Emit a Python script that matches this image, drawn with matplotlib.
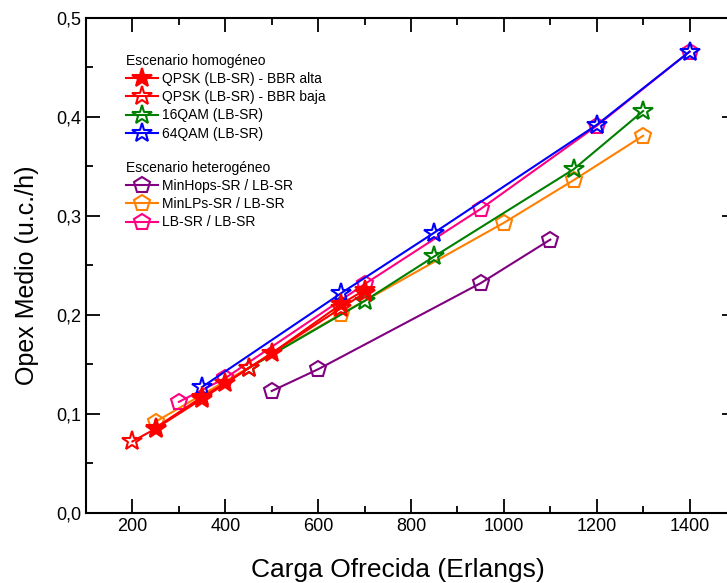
#!/usr/bin/env python3
# coding: utf-8

import matplotlib
matplotlib.use('Agg')
import matplotlib.pyplot as plt
from matplotlib.ticker import MultipleLocator, FuncFormatter

plt.rcParams['font.family'] = ['Liberation Sans', 'DejaVu Sans']

# Escenario homogeneo
qpsk_alta_x = [250, 350, 400, 500, 650, 700]
qpsk_alta_y = [0.086, 0.117, 0.131, 0.161, 0.211, 0.225]
qpsk_baja_x = [200, 250, 350, 450, 650, 700]
qpsk_baja_y = [0.072, 0.085, 0.115, 0.146, 0.207, 0.222]
qam16_x = [450, 700, 850, 1150, 1300]
qam16_y = [0.146, 0.214, 0.259, 0.347, 0.406]
qam64_x = [350, 650, 850, 1200, 1400]
qam64_y = [0.127, 0.222, 0.283, 0.392, 0.466]

# Escenario heterogeneo
minhops_x = [500, 600, 950, 1100]
minhops_y = [0.123, 0.145, 0.232, 0.276]
minlps_x = [250, 650, 1000, 1150, 1300]
minlps_y = [0.092, 0.201, 0.293, 0.336, 0.381]
lbsr_x = [300, 400, 700, 950, 1200, 1400]
lbsr_y = [0.112, 0.136, 0.231, 0.307, 0.391, 0.466]


def coma(v, pos):
    return ('%.1f' % v).replace('.', ',')


fig = plt.figure(figsize=(7.27, 5.83), dpi=100)
# el eje derecho queda fuera de la imagen, como en el original
ax = fig.add_axes([86 / 727, 1 - 512.7 / 583, 650 / 727, (512.7 - 18) / 583])

lw = 1.5
mew = 1.5
ms_star = 15
ms_pent = 12

h_minhops, = ax.plot(minhops_x, minhops_y, color='#800080', lw=lw, marker='p', ms=ms_pent,
                     mfc='none', mew=mew, label='MinHops-SR / LB-SR')
h_minlps, = ax.plot(minlps_x, minlps_y, color='#FF8000', lw=lw, marker='p', ms=ms_pent,
                    mfc='none', mew=mew, label='MinLPs-SR / LB-SR')
h_16, = ax.plot(qam16_x, qam16_y, color='#008000', lw=lw, marker='*', ms=ms_star,
                mfc='none', mew=mew, label='16QAM (LB-SR)')
h_lbsr, = ax.plot(lbsr_x, lbsr_y, color='#FF0080', lw=lw, marker='p', ms=ms_pent,
                  mfc='none', mew=mew, label='LB-SR / LB-SR')
h_64, = ax.plot(qam64_x, qam64_y, color='#0000FF', lw=lw, marker='*', ms=ms_star,
                mfc='none', mew=mew, label='64QAM (LB-SR)')
h_baja, = ax.plot(qpsk_baja_x, qpsk_baja_y, color='#FF0000', lw=lw, marker='*', ms=ms_star,
                  mfc='none', mew=mew, label='QPSK (LB-SR) - BBR baja')
h_alta, = ax.plot(qpsk_alta_x, qpsk_alta_y, color='#FF0000', lw=lw, marker='*', ms=ms_star,
                  mfc='#FF0000', mew=mew, label='QPSK (LB-SR) - BBR alta')

ax.set_xlim(100, 1500)
ax.set_ylim(0, 0.5)
ax.xaxis.set_major_locator(MultipleLocator(200))
ax.xaxis.set_minor_locator(MultipleLocator(100))
ax.yaxis.set_major_locator(MultipleLocator(0.1))
ax.yaxis.set_minor_locator(MultipleLocator(0.05))
ax.yaxis.set_major_formatter(FuncFormatter(coma))
ax.set_xticks([200, 400, 600, 800, 1000, 1200, 1400])

ax.tick_params(which='both', direction='in', top=True, right=True, width=1.3,
               labelsize=13)
ax.tick_params(which='major', length=10)
ax.tick_params(which='minor', length=5)
for s in ax.spines.values():
    s.set_linewidth(1.5)

ax.set_xlabel('Carga Ofrecida (Erlangs)', fontsize=19)
ax.set_ylabel('Opex Medio (u.c./h)', fontsize=18)
ax.xaxis.set_label_coords(0.48, -0.092)
ax.yaxis.set_label_coords(-0.0725, 0.48)

leg1 = ax.legend(handles=[h_alta, h_baja, h_16, h_64], title='Escenario homogéneo',
                 alignment='left', frameon=False, fontsize=10, title_fontsize=10,
                 loc='upper left', bbox_to_anchor=(126 / 727, 1 - 54 / 583),
                 bbox_transform=fig.transFigure, borderpad=0, labelspacing=0.3,
                 handlelength=2.3, handletextpad=0.3, borderaxespad=0)
ax.add_artist(leg1)
ax.legend(handles=[h_minhops, h_minlps, h_lbsr], title='Escenario heterogéneo',
          alignment='left', frameon=False, fontsize=10, title_fontsize=10,
          loc='upper left', bbox_to_anchor=(126 / 727, 1 - 161 / 583),
          bbox_transform=fig.transFigure, borderpad=0, labelspacing=0.3,
          handlelength=2.3, handletextpad=0.3, borderaxespad=0)

fig.savefig('out.png', dpi=100)
